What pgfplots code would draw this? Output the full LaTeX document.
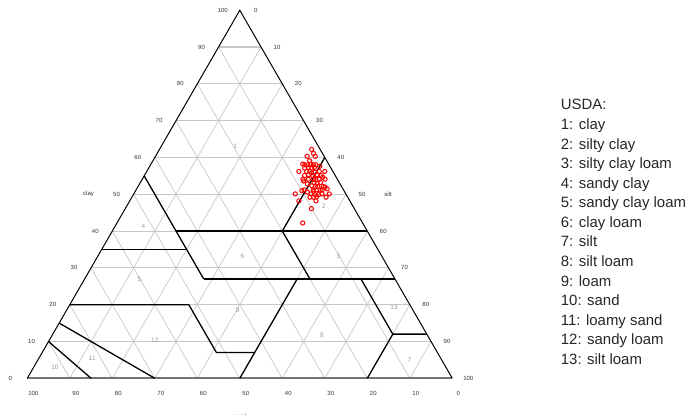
\documentclass[border=0pt]{standalone}
\usepackage{fontspec}
\setmainfont{Liberation Sans}
\usepackage{pgfplots}
\usepackage{pgfplotstable}
\pgfplotsset{compat=1.18}

% sample compositions (percent), sand = 100 - clay - silt
\pgfplotstableread{
clay silt
62.2 35.8
61.1 36.8
60.3 35.7
60.3 37.6
59.1 36.9
58.2 35.7
58.0 36.3
58.0 37.0
58.2 37.6
58.0 38.3
58.0 38.9
57.1 36.7
57.3 37.5
57.1 38.4
57.3 38.9
56.2 35.8
56.2 37.6
56.2 38.4
56.0 39.7
56.2 40.6
56.2 41.9
55.1 37.7
55.3 38.5
55.1 39.6
55.3 40.5
55.1 41.6
54.1 37.8
54.1 39.1
54.1 40.3
54.0 40.9
54.1 41.6
54.1 43.0
53.2 40.9
53.0 41.7
53.2 42.4
52.3 40.8
52.1 41.7
52.1 42.3
52.1 43.6
51.9 44.1
51.2 39.6
51.0 39.1
51.2 41.7
51.2 42.5
51.2 43.3
51.2 43.8
50.1 38.0
50.1 41.7
49.9 42.8
49.9 43.6
50.1 44.3
50.1 46.0
49.2 41.9
49.2 42.7
49.4 43.4
49.2 45.7
48.2 39.8
48.2 43.8
46.1 43.8
42.2 43.7
55.8 39.0
52.8 39.5
50.6 40.6
54.6 42.2
51.5 44.8
57.6 40.0
53.6 38.2
50.8 42.0
}\soildata

\pgfplotsset{
  table/tern/.style={
    x expr=\thisrow{silt}+0.5*\thisrow{clay},
    y expr=0.8660254*\thisrow{clay}},
  bound/.style={black, line width=1.3bp},
}
\tikzset{
  tick/.style={font=\fontsize{6}{7}\selectfont, text=black!80, inner sep=0pt},
  cls/.style={font=\fontsize{6.5}{7}\selectfont, text=black!40, inner sep=0pt},
  leg/.style={font=\fontsize{15}{16}\selectfont, text=black!85, inner sep=0pt, anchor=base west},
}

\begin{document}
\begin{tikzpicture}
\useasboundingbox (-27.3bp,-36.7bp) rectangle (664.7bp,378.3bp);
\begin{axis}[
    scale only axis,
    width=425bp, height=368.06bp,
    xmin=0, xmax=100, ymin=0, ymax=86.60254,
    hide axis,
    clip=false,
]
% grid
\pgfplotsinvokeforeach{10,20,...,90}{
  \draw[black!22, line width=1.1bp] (axis cs:{#1/2},{#1*0.8660254}) -- (axis cs:{100-#1/2},{#1*0.8660254});
  \draw[black!22, line width=0.7bp] (axis cs:#1,0) -- (axis cs:{50+#1/2},{(100-#1)*0.8660254});
  \draw[black!22, line width=0.7bp] (axis cs:#1,0) -- (axis cs:{#1/2},{#1*0.8660254});
}
% triangle
\draw[black!55, line width=1.6bp] (axis cs:0,0) -- (axis cs:100,0);
\draw[black, line width=1bp] (axis cs:0,0) -- (axis cs:50,86.60254) -- (axis cs:100,0);

% USDA class boundaries
\addplot[bound] table[tern,row sep=\\]{clay silt\\ 55 0\\ 27 28\\};
\addplot[bound] table[tern,row sep=\\]{clay silt\\ 40 15\\ 40 60\\};
\addplot[bound] table[tern,row sep=\\]{clay silt\\ 40 40\\ 60 40\\};
\addplot[bound] table[tern,row sep=\\]{clay silt\\ 40 40\\ 27 53\\};
\addplot[bound] table[tern,row sep=\\]{clay silt\\ 35 0\\ 35 20\\};
\addplot[bound] table[tern,row sep=\\]{clay silt\\ 27 28\\ 27 73\\};
\addplot[bound] table[tern,row sep=\\]{clay silt\\ 20 0\\ 20 28\\ 7 41\\ 7 50\\};
\addplot[bound] table[tern,row sep=\\]{clay silt\\ 0 50\\ 27 50\\};
\addplot[bound] table[tern,row sep=\\]{clay silt\\ 0 80\\ 12 80\\ 12 88\\};
\addplot[bound] table[tern,row sep=\\]{clay silt\\ 12 80\\ 27 65\\};
\addplot[bound] table[tern,row sep=\\]{clay silt\\ 15 0\\ 0 30\\};
\addplot[bound] table[tern,row sep=\\]{clay silt\\ 10 0\\ 0 15\\};

% samples
\addplot[only marks, mark=o, mark size=2.1bp, red, mark options={line width=1bp}] table[tern] {\soildata};

% tick labels
\pgfplotsinvokeforeach{0,10,...,100}{
  \node[tick, xshift=-17bp] at (axis cs:{#1/2},{#1*0.8660254}) {#1};
  \node[tick, xshift=16bp] at (axis cs:{50+#1/2},{(100-#1)*0.8660254}) {#1};
  \node[tick, xshift=6bp, yshift=-15bp] at (axis cs:{100-#1},0) {#1};
}
\node[tick, xshift=-45bp] at (axis cs:25,43.30127) {clay};
\node[tick, xshift=42bp] at (axis cs:75,43.30127) {silt};
\node[tick, yshift=-38bp] at (axis cs:50,0) {sand};

% class numbers
\node[cls] at (axis cs:48.9,54.5) {1};
\node[cls] at (axis cs:69.8,40.4) {2};
\node[cls] at (axis cs:73.2,28.8) {3};
\node[cls] at (axis cs:27.3,35.8) {4};
\node[cls] at (axis cs:26.4,23.4) {5};
\node[cls] at (axis cs:50.6,28.8) {6};
\node[cls] at (axis cs:89.9,4.3) {7};
\node[cls] at (axis cs:69.3,10.2) {8};
\node[cls] at (axis cs:49.5,15.9) {9};
\node[cls] at (axis cs:6.5,2.7) {10};
\node[cls] at (axis cs:15.3,4.7) {11};
\node[cls] at (axis cs:30.0,9.0) {12};
\node[cls] at (axis cs:86.3,16.6) {13};
\end{axis}

\foreach \t [count=\i from 0] in {USDA:, 1: clay, 2: silty clay, 3: silty clay loam,
    4: sandy clay, 5: sandy clay loam, 6: clay loam, 7: silt, 8: silt loam,
    9: loam, 10: sand, 11: loamy sand, 12: sandy loam, 13: silt loam}
  \node[leg] at (533.4bp,{268.3bp-\i*19.56bp}) {\t};
\end{tikzpicture}
\end{document}
